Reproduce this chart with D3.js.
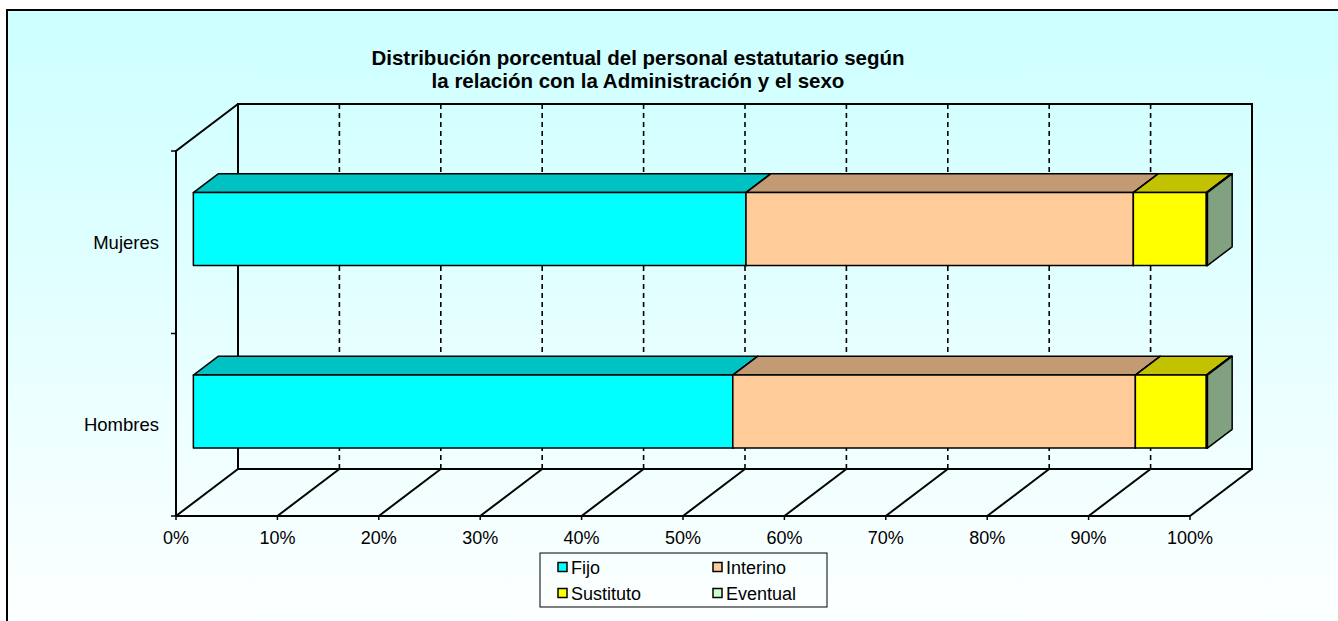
<!DOCTYPE html>
<html lang="es">
<head>
    <meta charset="UTF-8">
    <title>Distribución porcentual del personal estatutario</title>
    <style>
        body {
            margin: 0;
            padding: 0;
            overflow: hidden;
            font-family: Arial, 'Liberation Sans', sans-serif;
        }
    </style>
    <script src="https://d3js.org/d3.v7.min.js"></script>
</head>
<body>
    <div id="chart"></div>
    <script>
        // Data (percent)
        var categories = ["Mujeres", "Hombres"];
        var seriesNames = ["Fijo", "Interino", "Sustituto", "Eventual"];
        var fijo = [54.5, 53.2];
        var interino = [38.2, 39.7];
        var sustituto = [7.2, 7.0];
        var eventual = [0.1, 0.1];
        var tickValues = [0, 10, 20, 30, 40, 50, 60, 70, 80, 90, 100];
        var titleLines = ["Distribución porcentual del personal estatutario según",
                          "la relación con la Administración y el sexo"];

        var colors = ["#00FFFF", "#FFCC99", "#FFFF00", "#CCFFCC"];

        var width = 1338;
        var height = 621;

        // 3D depth offset of the plot box
        var depthX = 62, depthY = 47;
        // bar front/back position inside the depth
        var z1 = 0.28, z2 = 0.68;

        var svg = d3.select("#chart")
            .append("svg")
            .attr("width", width)
            .attr("height", height);

        // Background gradient
        var grad = svg.append("defs").append("linearGradient")
            .attr("id", "bg")
            .attr("x1", 0).attr("y1", 0).attr("x2", 0).attr("y2", 1);
        grad.append("stop").attr("offset", "0%").attr("stop-color", "#CCFFFF");
        grad.append("stop").attr("offset", "100%").attr("stop-color", "#FFFFFF");

        svg.append("rect")
            .attr("x", 7).attr("y", 10)
            .attr("width", 1400).attr("height", 640)
            .attr("fill", "url(#bg)")
            .attr("stroke", "#000")
            .attr("stroke-width", 2);

        // Scales (front plane)
        var x = d3.scaleLinear().domain([0, 100]).range([176, 1190]);
        var y = d3.scaleBand().domain(categories).range([151, 516]).paddingInner(0).paddingOuter(0);

        function shade(c, k) {
            var r = d3.rgb(c);
            return d3.rgb(r.r * k, r.g * k, r.b * k).formatHex();
        }

        // point in 3D: value v, screen y on front plane, depth z in [0,1]
        function pt(v, yy, z) {
            return [x(v) + z * depthX, yy - z * depthY];
        }

        var top0 = y.range()[0], bot0 = y.range()[1];

        // Back wall gridlines (dashed)
        svg.selectAll(".grid")
            .data(tickValues.slice(1, -1))
            .enter()
            .append("line")
            .attr("x1", function(d) { return pt(d, top0, 1)[0]; })
            .attr("y1", function(d) { return pt(d, top0, 1)[1]; })
            .attr("x2", function(d) { return pt(d, bot0, 1)[0]; })
            .attr("y2", function(d) { return pt(d, bot0, 1)[1]; })
            .attr("stroke", "#000")
            .attr("stroke-width", 1.6)
            .attr("stroke-dasharray", "5,4");

        // Floor diagonal lines
        svg.selectAll(".floor")
            .data(tickValues)
            .enter()
            .append("line")
            .attr("x1", function(d) { return pt(d, bot0, 0)[0]; })
            .attr("y1", function(d) { return pt(d, bot0, 0)[1]; })
            .attr("x2", function(d) { return pt(d, bot0, 1)[0]; })
            .attr("y2", function(d) { return pt(d, bot0, 1)[1]; })
            .attr("stroke", "#000")
            .attr("stroke-width", 2);

        // Walls outline
        var wall = d3.path();
        // back wall
        var bl = pt(0, bot0, 1), tl = pt(0, top0, 1), tr = pt(100, top0, 1), br = pt(100, bot0, 1);
        wall.moveTo(bl[0], bl[1]); wall.lineTo(tl[0], tl[1]); wall.lineTo(tr[0], tr[1]);
        wall.lineTo(br[0], br[1]); wall.lineTo(bl[0], bl[1]);
        // left wall
        var fl = pt(0, bot0, 0), ft = pt(0, top0, 0);
        wall.moveTo(fl[0], fl[1]); wall.lineTo(ft[0], ft[1]); wall.lineTo(tl[0], tl[1]);
        // floor front edge
        var fr = pt(100, bot0, 0);
        wall.moveTo(fl[0], fl[1]); wall.lineTo(fr[0], fr[1]);
        svg.append("path")
            .attr("d", wall.toString())
            .attr("fill", "none")
            .attr("stroke", "#000")
            .attr("stroke-width", 2);

        // Category axis ticks
        svg.selectAll(".ytick")
            .data([top0, y("Hombres"), bot0])
            .enter()
            .append("line")
            .attr("x1", x(0) - 5).attr("x2", x(0))
            .attr("y1", function(d) { return d; })
            .attr("y2", function(d) { return d; })
            .attr("stroke", "#000")
            .attr("stroke-width", 1.5);

        // Value axis ticks and labels
        svg.selectAll(".xtick")
            .data(tickValues)
            .enter()
            .append("line")
            .attr("x1", function(d) { return x(d); })
            .attr("x2", function(d) { return x(d); })
            .attr("y1", bot0).attr("y2", bot0 + 4)
            .attr("stroke", "#000")
            .attr("stroke-width", 1.5);

        svg.selectAll(".xlabel")
            .data(tickValues)
            .enter()
            .append("text")
            .attr("x", function(d) { return x(d); })
            .attr("y", 544)
            .attr("text-anchor", "middle")
            .style("font-size", "18px")
            .text(function(d) { return d + "%"; });

        svg.selectAll(".ylabel")
            .data(categories)
            .enter()
            .append("text")
            .attr("x", 159)
            .attr("y", function(d) { return y(d) + y.bandwidth() / 2 + 6.5; })
            .attr("text-anchor", "end")
            .style("font-size", "18.5px")
            .text(function(d) { return d; });

        // Stacked 3D bars
        var values = [fijo, interino, sustituto, eventual];
        var barH = y.bandwidth() * 0.4;

        categories.forEach(function(cat, ci) {
            var cy = y(cat) + y.bandwidth() / 2;
            var yt = cy - barH / 2, yb = cy + barH / 2;
            var start = 0;
            values.forEach(function(series, si) {
                var end = start + series[ci];
                var col = colors[si];
                // front face (at depth z1)
                var a = pt(start, yt, z1), b = pt(end, yt, z1), c = pt(end, yb, z1), d = pt(start, yb, z1);
                // back corners (depth z2)
                var e = pt(start, yt, z2), f = pt(end, yt, z2), g = pt(end, yb, z2);

                svg.append("polygon")
                    .attr("points", [a, e, f, b].join(" "))
                    .attr("fill", shade(col, 0.76))
                    .attr("stroke", "#000").attr("stroke-width", 1.5)
                    .attr("stroke-linejoin", "round");
                svg.append("polygon")
                    .attr("points", [b, f, g, c].join(" "))
                    .attr("fill", shade(col, 0.63))
                    .attr("stroke", "#000").attr("stroke-width", 1.5)
                    .attr("stroke-linejoin", "round");
                svg.append("polygon")
                    .attr("points", [a, b, c, d].join(" "))
                    .attr("fill", col)
                    .attr("stroke", "#000").attr("stroke-width", 1.5)
                    .attr("stroke-linejoin", "round");
                start = end;
            });
        });

        // Title
        svg.selectAll(".title")
            .data(titleLines)
            .enter()
            .append("text")
            .attr("x", 638)
            .attr("y", function(d, i) { return 65 + i * 23; })
            .attr("text-anchor", "middle")
            .style("font-size", "20.5px")
            .style("font-weight", "bold")
            .text(function(d) { return d; });

        // Legend
        var legend = svg.append("g").attr("transform", "translate(540,553)");
        legend.append("rect")
            .attr("width", 287).attr("height", 54)
            .attr("fill", "none")
            .attr("stroke", "#000")
            .attr("stroke-width", 1);

        var item = legend.selectAll(".item")
            .data(seriesNames)
            .enter()
            .append("g")
            .attr("transform", function(d, i) {
                return "translate(" + (18 + (i % 2) * 155) + "," + (14 + Math.floor(i / 2) * 26) + ")";
            });
        item.append("rect")
            .attr("y", -4.5)
            .attr("width", 9).attr("height", 9)
            .attr("fill", function(d, i) { return colors[i]; })
            .attr("stroke", "#000")
            .attr("stroke-width", 1.5);
        item.append("text")
            .attr("x", 13)
            .attr("y", 6.5)
            .style("font-size", "18px")
            .text(function(d) { return d; });
    </script>
</body>
</html>
